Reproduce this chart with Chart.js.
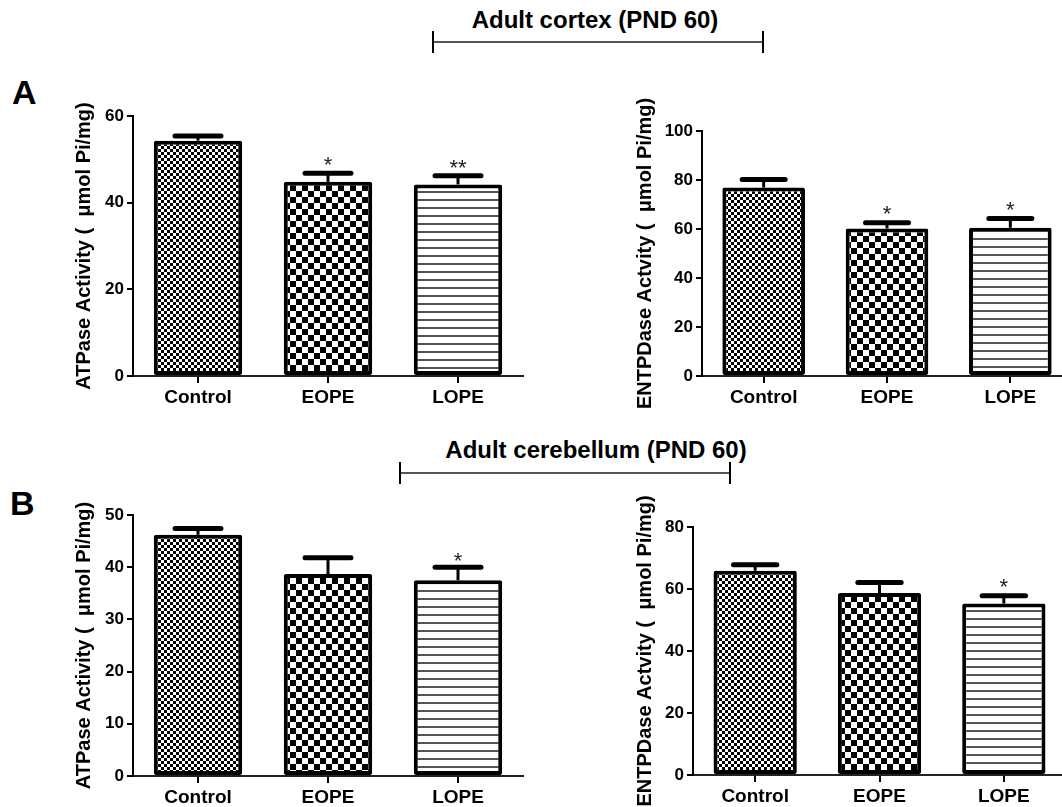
<!DOCTYPE html>
<html>
<head>
<meta charset="utf-8">
<script src="https://cdn.jsdelivr.net/npm/chart.js@4.4.1/dist/chart.umd.min.js"></script>
<style>
html, body { margin: 0; padding: 0; background: #fff; overflow: hidden; }
#page { position: relative; width: 1062px; height: 807px; overflow: hidden;
        font-family: "Liberation Sans", Arial, sans-serif; color: #000; }
#page canvas { position: absolute; }
.lbl { position: absolute; font-weight: bold; line-height: 1; white-space: nowrap; }
.ttl { text-align: center; width: 400px; font-size: 24px; }
.brk { position: absolute; height: 2px; background: #555; }
.brk::before, .brk::after { content: ""; position: absolute; width: 2px; height: 22px; top: -10px; background: #000; }
.brk::before { left: -1px; }
.brk::after { right: -1px; }
</style>
</head>
<body>
<div id="page">
  <div class="lbl" style="left:12px;top:75px;font-size:34px">A</div>
  <div class="lbl" style="left:10px;top:486px;font-size:34px">B</div>
  <div class="lbl ttl" style="left:395px;top:8px">Adult cortex (PND 60)</div>
  <div class="brk" style="left:433px;top:41px;width:330px"></div>
  <div class="lbl ttl" style="left:396px;top:438px">Adult cerebellum (PND 60)</div>
  <div class="brk" style="left:400px;top:472px;width:330px"></div>
  <canvas id="c1"></canvas>
  <canvas id="c2"></canvas>
  <canvas id="c3"></canvas>
  <canvas id="c4"></canvas>
</div>
<script>
// values
const categories = ['Control', 'EOPE', 'LOPE'];

const cortexAtpase = [54.3, 44.8, 44.2];
const cortexAtpaseSem = [1.1, 2.0, 2.0];
const cortexAtpaseStars = ['', '*', '**'];
const cortexAtpaseTicks = [0, 20, 40, 60];

const cortexEntpdase = [76.9, 60.2, 60.5];
const cortexEntpdaseSem = [3.3, 2.4, 3.8];
const cortexEntpdaseStars = ['', '*', '*'];
const cortexEntpdaseTicks = [0, 20, 40, 60, 80, 100];

const cerebAtpase = [46.2, 38.7, 37.5];
const cerebAtpaseSem = [1.2, 3.1, 2.5];
const cerebAtpaseStars = ['', '', '*'];
const cerebAtpaseTicks = [0, 10, 20, 30, 40, 50];

const cerebEntpdase = [65.9, 58.7, 55.3];
const cerebEntpdaseSem = [1.9, 3.4, 2.5];
const cerebEntpdaseStars = ['', '', '*'];
const cerebEntpdaseTicks = [0, 20, 40, 60, 80];

const atpaseTitle = 'ATPase Activity (  \u03bcmol Pi/mg)';
const entpdaseTitle = 'ENTPDase Actvity (  \u03bcmol Pi/mg)';

const FONT = '"Liberation Sans", Arial, sans-serif';

// fill patterns
function checker(size) {
  const c = document.createElement('canvas');
  c.width = c.height = size * 2;
  const g = c.getContext('2d');
  g.fillStyle = '#fff';
  g.fillRect(0, 0, size * 2, size * 2);
  g.fillStyle = '#000';
  g.fillRect(0, 0, size, size);
  g.fillRect(size, size, size, size);
  return g.createPattern(c, 'repeat');
}
function hlines(step) {
  const c = document.createElement('canvas');
  c.width = 8; c.height = step;
  const g = c.getContext('2d');
  g.fillStyle = '#fff';
  g.fillRect(0, 0, 8, step);
  g.fillStyle = '#555';
  g.fillRect(0, 0, 8, 2);
  return g.createPattern(c, 'repeat');
}
const fills = [checker(3), checker(6), hlines(8)];

// error bars + significance stars
const errorBars = {
  id: 'errorBars',
  afterDatasetsDraw(chart) {
    const ctx = chart.ctx;
    const y = chart.scales.y;
    const ds = chart.data.datasets[0];
    const meta = chart.getDatasetMeta(0);
    ctx.save();
    meta.data.forEach((bar, i) => {
      const top = y.getPixelForValue(ds.data[i] + ds.sem[i]);
      const half = bar.width * 0.26;
      ctx.strokeStyle = '#000';
      ctx.lineWidth = 3;
      ctx.beginPath();
      ctx.moveTo(bar.x, bar.y);
      ctx.lineTo(bar.x, top);
      ctx.stroke();
      ctx.lineWidth = 5;
      ctx.lineCap = 'round';
      ctx.beginPath();
      ctx.moveTo(bar.x - half, top);
      ctx.lineTo(bar.x + half, top);
      ctx.stroke();
      ctx.lineCap = 'butt';
      if (ds.stars[i]) {
        ctx.font = '22px ' + FONT;
        ctx.textAlign = 'center';
        ctx.textBaseline = 'alphabetic';
        ctx.fillStyle = '#222';
        ctx.fillText(ds.stars[i], bar.x, top - ds.starLift);
      }
    });
    ctx.restore();
  }
};

function panel(id, box, values, sem, stars, ticks, title) {
  const padTop = 45, padRight = 4, xh = 40;
  const cv = document.getElementById(id);
  cv.style.left = box.left + 'px';
  cv.style.top = (box.axisTop - padTop) + 'px';
  const w = box.axisRight + padRight - box.left;
  const h = box.axisBottom + xh - (box.axisTop - padTop);
  cv.width = w; cv.height = h;
  cv.style.width = w + 'px'; cv.style.height = h + 'px';
  new Chart(cv.getContext('2d'), {
    type: 'bar',
    data: {
      labels: categories,
      datasets: [{
        data: values,
        sem: sem,
        stars: stars,
        starLift: box.starLift,
        backgroundColor: fills,
        borderColor: '#000',
        borderWidth: 4,
        borderSkipped: false,
        borderRadius: 2,
        categoryPercentage: 1,
        barPercentage: box.bar
      }]
    },
    options: {
      responsive: false,
      animation: false,
      layout: { padding: { top: padTop, right: padRight, left: 0, bottom: 0 } },
      plugins: { legend: { display: false }, tooltip: { enabled: false } },
      scales: {
        x: {
          afterFit: s => { s.height = xh; },
          grid: { drawOnChartArea: false, offset: false, tickLength: 7, color: '#000', lineWidth: 2 },
          border: { color: '#222', width: 2 },
          ticks: { color: '#000', maxRotation: 0, font: { family: FONT, size: 19, weight: 'bold' } }
        },
        y: {
          min: ticks[0],
          max: ticks[ticks.length - 1],
          afterFit: s => { s.width = box.axisX - box.left; },
          grid: { drawOnChartArea: false, tickLength: 6, color: '#000', lineWidth: 2 },
          border: { color: '#000', width: 2 },
          ticks: { stepSize: ticks[1] - ticks[0], color: '#000', font: { family: FONT, size: 17, weight: 'bold' } },
          title: { display: true, text: title, color: '#000', font: { family: FONT, size: 20, weight: 'bold' } }
        }
      }
    },
    plugins: [errorBars]
  });
}

panel('c1', { left: 68, axisX: 133, axisTop: 116, axisBottom: 376, axisRight: 523, bar: 0.68, starLift: 1 },
  cortexAtpase, cortexAtpaseSem, cortexAtpaseStars, cortexAtpaseTicks, atpaseTitle);
panel('c2', { left: 629, axisX: 702, axisTop: 131, axisBottom: 376, axisRight: 1072, bar: 0.67, starLift: 1.5 },
  cortexEntpdase, cortexEntpdaseSem, cortexEntpdaseStars, cortexEntpdaseTicks, entpdaseTitle);
panel('c3', { left: 68, axisX: 133, axisTop: 515, axisBottom: 776, axisRight: 523, bar: 0.68, starLift: -1 },
  cerebAtpase, cerebAtpaseSem, cerebAtpaseStars, cerebAtpaseTicks, atpaseTitle);
panel('c4', { left: 629, axisX: 693, axisTop: 527, axisBottom: 775, axisRight: 1066, bar: 0.67, starLift: 1.5 },
  cerebEntpdase, cerebEntpdaseSem, cerebEntpdaseStars, cerebEntpdaseTicks, entpdaseTitle);
</script>
</body>
</html>
